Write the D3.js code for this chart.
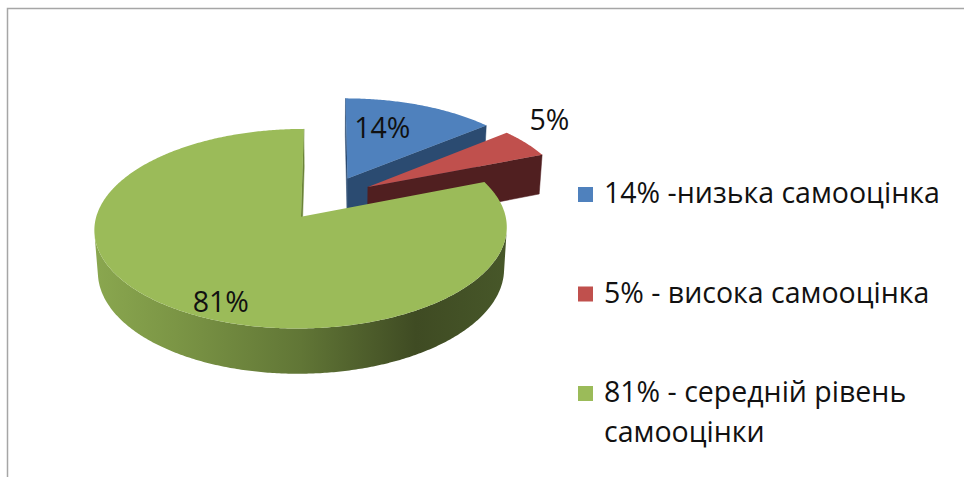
<!DOCTYPE html>
<html>
<head>
<meta charset="utf-8">
<script src="https://cdn.jsdelivr.net/npm/d3@7"></script>
<style>
  body { margin: 0; background: #fff; }
  text { font-family: "Open Sans", sans-serif; fill: #111; }
</style>
</head>
<body>
<svg id="chart_root" width="964" height="477"></svg>
<script>
// chart values
const categories = ["низька самооцінка", "висока самооцінка", "середній рівень самооцінки"];
const values = [14, 5, 81];
const sliceLabels = ["14%", "5%", "81%"];
const legendLines = [
    ["14% -низька самооцінка"],
    ["5% - висока самооцінка"],
    ["81% - середній рівень", "самооцінки"]
];

const topColours = ["#4f81bd", "#c0504d", "#9bbb59"];
const sideColours = ["#2b4b71", "#501f20", "#6b8438"];

var svg = d3.select("#chart_root");

// frame round the chart area
svg.append("rect")
    .attr("x", 7.5).attr("y", 8.5)
    .attr("width", 1000).attr("height", 500)
    .attr("fill", "none")
    .attr("stroke", "#a6a6a6")
    .attr("stroke-width", 1.5);

// 3d set-up: pie lying flat, seen from above with some perspective
var cx = 328, cy = 198;
var radius = 200, depth = 47, explode = 47;
var elev = 28 * Math.PI / 180;
var focal = 1500;
var sinE = Math.sin(elev), cosE = Math.cos(elev);
var camera = [0, -focal * sinE, focal * cosE];

function project(X, Y, Z)
{
    var sy = Z * sinE + Y * cosE;
    var d = -Z * cosE + Y * sinE;
    var s = focal / (focal + d);
    return [cx + X * s, cy + sy * s];
}

function facing(normal, point)
{
    var v = [camera[0] - point[0], camera[1] - point[1], camera[2] - point[2]];
    return normal[0] * v[0] + normal[1] * v[1] + normal[2] * v[2] > 0;
}

var arcs = d3.pie().sort(null).value(function(d) { return d; })(values);

arcs.forEach(function(a, i)
{
    var mid = (a.startAngle + a.endAngle) / 2;
    a.index = i;
    a.ox = explode * Math.sin(mid);
    a.oz = -explode * Math.cos(mid);
});

function rim(a, t, y, r)
{
    var rr = (r === undefined) ? radius : r;
    return [a.ox + rr * Math.sin(t), y, a.oz - rr * Math.cos(t)];
}

function toPath(points3d)
{
    return "M" + points3d.map(function(p) { return project(p[0], p[1], p[2]).join(","); }).join("L") + "Z";
}

// gradient for the big green wall
var defs = svg.append("defs");
var greenArc = arcs[2];
var xs = d3.range(0, 361).map(function(k)
{
    var p = rim(greenArc, k * Math.PI / 180, 0);
    return project(p[0], p[1], p[2])[0];
});
var grad = defs.append("linearGradient")
    .attr("id", "green_side")
    .attr("gradientUnits", "userSpaceOnUse")
    .attr("x1", d3.min(xs)).attr("x2", d3.max(xs))
    .attr("y1", 0).attr("y2", 0);
[[0, "#8aa74f"], [0.2, "#7b9545"], [0.5, "#617636"], [0.78, "#3f4b23"], [1, "#475729"]]
    .forEach(function(s) { grad.append("stop").attr("offset", s[0]).attr("stop-color", s[1]); });

var wallFill = [sideColours[0], sideColours[1], "url(#green_side)"];

// far slices first
var order = arcs.slice().sort(function(a, b) { return a.oz - b.oz; });
var g = svg.append("g");

order.forEach(function(a)
{
    var i = a.index;
    var apexTop = [a.ox, 0, a.oz], apexBot = [a.ox, depth, a.oz];

    // the two cut faces
    [[a.startAngle, -1], [a.endAngle, 1]].forEach(function(e)
    {
        var t = e[0];
        var n = [Math.sin(t + e[1] * Math.PI / 2), 0, -Math.cos(t + e[1] * Math.PI / 2)];
        var pt = rim(a, t, 0, radius / 2);
        if (facing(n, pt))
        {
            g.append("path")
                .attr("d", toPath([apexTop, rim(a, t, 0), rim(a, t, depth), apexBot]))
                .attr("fill", sideColours[i])
                .attr("stroke", sideColours[i]).attr("stroke-width", 0.5);
        }
    });

    // outer wall, only where it looks at the camera
    var steps = Math.max(8, Math.ceil((a.endAngle - a.startAngle) / 0.01));
    var runs = [], run = null;
    for (var k = 0; k <= steps; k++)
    {
        var t = a.startAngle + (a.endAngle - a.startAngle) * k / steps;
        var n = [Math.sin(t), 0, -Math.cos(t)];
        if (facing(n, rim(a, t, depth / 2)))
        {
            if (!run) { run = []; runs.push(run); }
            run.push(t);
        }
        else run = null;
    }
    runs.forEach(function(r)
    {
        if (r.length < 2) return;
        var pts = r.map(function(t) { return rim(a, t, 0); })
            .concat(r.slice().reverse().map(function(t) { return rim(a, t, depth); }));
        g.append("path")
            .attr("d", toPath(pts))
            .attr("fill", wallFill[i]);
    });

    // top face
    var topPts = [apexTop];
    for (var k = 0; k <= steps; k++)
    {
        topPts.push(rim(a, a.startAngle + (a.endAngle - a.startAngle) * k / steps, 0));
    }
    g.append("path")
        .attr("d", toPath(topPts))
        .attr("fill", topColours[i]);
});

// slice labels: angle (deg) and distance as share of radius
var labelPlace = [[18, 0.64], [52, 1.3], [203.4, 0.86]];
arcs.forEach(function(a, i)
{
    var p = rim(a, labelPlace[i][0] * Math.PI / 180, 0, radius * labelPlace[i][1]);
    var s = project(p[0], p[1], p[2]);
    g.append("text")
        .attr("x", s[0]).attr("y", s[1])
        .attr("dy", "0.35em")
        .attr("text-anchor", "middle")
        .attr("font-size", 28.5)
        .text(sliceLabels[i]);
});

// legend
var legendY = d3.scalePoint().domain(d3.range(categories.length)).range([203, 402]);
var legend = svg.append("g").attr("class", "legend");
legendLines.forEach(function(lines, i)
{
    var y = legendY(i);
    legend.append("rect")
        .attr("x", 578).attr("y", y - 16)
        .attr("width", 15).attr("height", 15)
        .attr("fill", topColours[i]);
    lines.forEach(function(line, j)
    {
        legend.append("text")
            .attr("x", 604).attr("y", y + j * 40)
            .attr("font-size", 28.5)
            .text(line);
    });
});
</script>
</body>
</html>
